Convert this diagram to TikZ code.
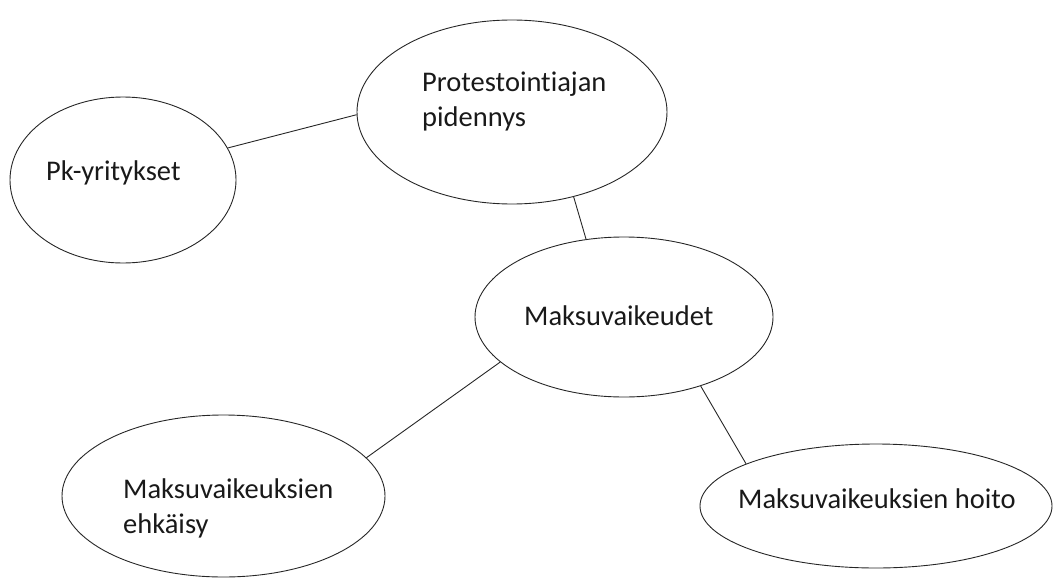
\documentclass[tikz,border=0pt]{standalone}
\usepackage{fontspec}
\setmainfont{Carlito}[RawFeature={-liga;-clig}]
\usetikzlibrary{shapes.geometric}
\begin{document}
\begin{tikzpicture}[x=1pt,y=-1pt,
  bubble/.style={ellipse,draw=black!85,line width=0.9pt,inner sep=0pt},
  link/.style={draw=black!85,line width=0.9pt},
  lbl/.style={anchor=base west,inner sep=0pt,align=left,font=\fontsize{28.5}{35}\selectfont,text=black!90}]
\useasboundingbox (0,0) rectangle (1056,583);
\node[bubble,minimum width=310pt,minimum height=184pt] (prot) at (512,112) {};
\node[bubble,minimum width=226pt,minimum height=166pt] (pk) at (123,180) {};
\node[bubble,minimum width=298pt,minimum height=160pt] (maks) at (624,317) {};
\node[bubble,minimum width=323pt,minimum height=162pt] (ehk) at (223.5,496) {};
\node[bubble,minimum width=352pt,minimum height=124pt] (hoito) at (876,506) {};
\node[lbl] (tprot) at (422,126) {Protestointiajan\\pidennys};
\node[lbl] (tpk) at (46,180) {Pk-yritykset};
\node[lbl] (tmaks) at (524,325) {Maksuvaikeudet};
\node[lbl] (tehk) at (123,533) {Maksuvaikeuksien\\ehkäisy};
\node[lbl] (thoito) at (738,508) {Maksuvaikeuksien hoito};
\draw[link] (pk.17) -- (prot.181.5);
\draw[link] (prot.-54.4) -- (maks.116.9);
\draw[link] (maks.200.7) -- (ehk.15);
\draw[link] (maks.-42.8) -- (hoito.162);
\end{tikzpicture}
\end{document}
